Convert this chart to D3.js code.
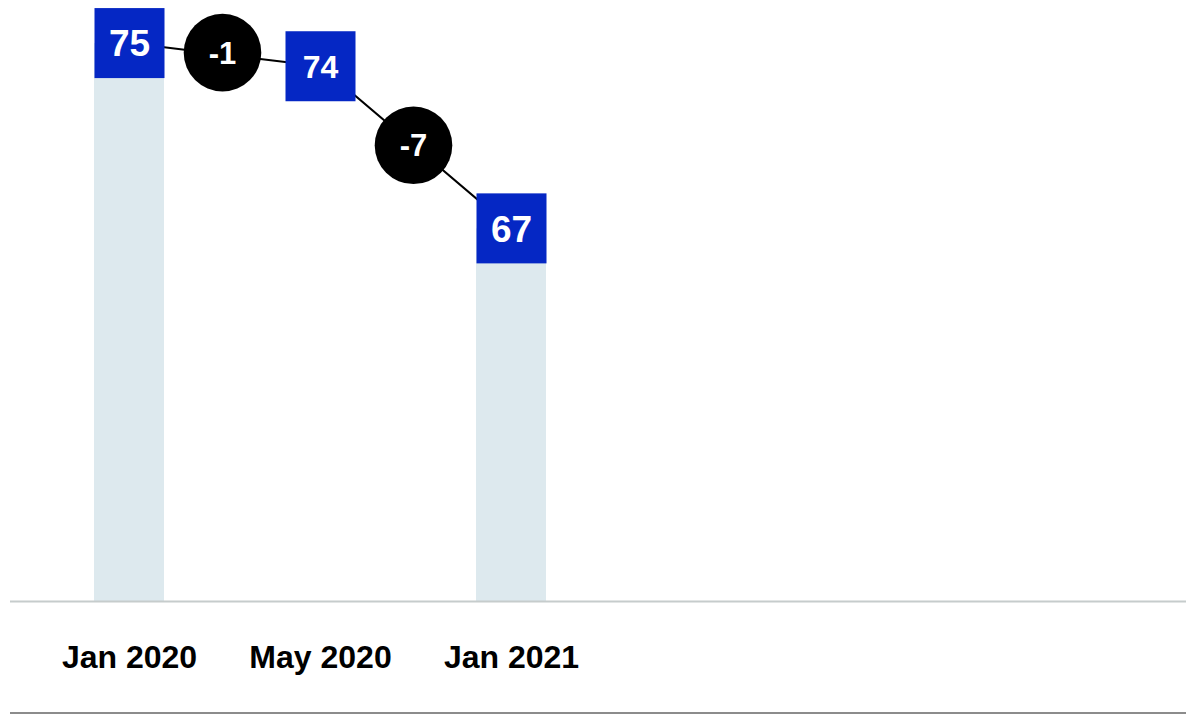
<!DOCTYPE html>
<html>
<head>
<meta charset="utf-8">
<script src="https://cdn.jsdelivr.net/npm/d3@7"></script>
<style>
  html, body { margin: 0; padding: 0; background: #fff; }
  svg { display: block; }
  text { font-family: "Liberation Sans", Arial, sans-serif; font-weight: bold; }
</style>
</head>
<body>
<svg id="chart" width="1186" height="714"></svg>
<script>
// Survey score at each wave
const categories = ["Jan 2020", "May 2020", "Jan 2021"];
const values = [75, 74, 67];
// Waves that carry a background column
const showColumn = [true, false, true];
// Emphasised waves get a larger value label
const emphasis = [true, false, true];

const W = 1186, H = 714;
const svg = d3.select("#chart");

const x = d3.scaleBand()
  .domain(categories)
  .range([34, 34 + 191 * categories.length]);

const baseY = 601.5;
const y = d3.scaleLinear()
  .domain([50.89, 76.86])
  .range([baseY, 0]);

const cx = c => x(c) + x.bandwidth() / 2;
const colW = 70, boxSize = 70, radius = 38.8;

const points = categories.map((c, i) => ({ c, v: values[i], col: showColumn[i], big: emphasis[i] }));

// Background columns
svg.append("g").selectAll("rect")
  .data(points.filter(d => d.col))
  .join("rect")
  .attr("x", d => cx(d.c) - colW / 2 - 0.5)
  .attr("y", d => y(d.v))
  .attr("width", colW)
  .attr("height", d => baseY - y(d.v))
  .attr("fill", "#dde9ee");

// Baseline
svg.append("line")
  .attr("x1", 10).attr("x2", W)
  .attr("y1", baseY).attr("y2", baseY)
  .attr("stroke", "#c6cccc").attr("stroke-width", 2);

// Bottom rule
svg.append("line")
  .attr("x1", 10).attr("x2", W)
  .attr("y1", 713).attr("y2", 713)
  .attr("stroke", "#666").attr("stroke-width", 1.5);

// Connecting line
const line = d3.line().x(d => cx(d.c)).y(d => y(d.v));
svg.append("path")
  .datum(points)
  .attr("d", line)
  .attr("fill", "none")
  .attr("stroke", "#000")
  .attr("stroke-width", 2);

// Change bubbles between waves, nudged slightly up-left of the segment midpoint
const deltas = points.slice(1).map((d, i) => ({
  x: (cx(points[i].c) + cx(d.c)) / 2 - 2.5,
  y: (y(points[i].v) + y(d.v)) / 2 - 2,
  delta: d.v - points[i].v
}));
const bubbles = svg.append("g").selectAll("g")
  .data(deltas)
  .join("g")
  .attr("transform", d => `translate(${d.x},${d.y})`);
bubbles.append("circle")
  .attr("r", radius)
  .attr("fill", "#000");
bubbles.append("text")
  .attr("text-anchor", "middle")
  .attr("dy", "0.36em")
  .attr("fill", "#fff")
  .attr("font-size", 31)
  .text(d => (d.delta > 0 ? "+" : "") + d.delta);

// Value boxes
const boxes = svg.append("g").selectAll("g")
  .data(points)
  .join("g")
  .attr("transform", d => `translate(${cx(d.c)},${y(d.v)})`);
boxes.append("rect")
  .attr("x", -boxSize / 2)
  .attr("y", -boxSize / 2)
  .attr("width", boxSize)
  .attr("height", boxSize)
  .attr("fill", "#0527c4");
boxes.append("text")
  .attr("text-anchor", "middle")
  .attr("dy", "0.36em")
  .attr("fill", "#fff")
  .attr("font-size", d => d.big ? 37 : 32)
  .text(d => d.v);

// Category labels
const xAxis = d3.axisBottom(x).tickSize(0).tickPadding(0);
const gx = svg.append("g")
  .attr("transform", `translate(0,${baseY})`)
  .call(xAxis);
gx.select(".domain").remove();
gx.selectAll("text")
  .attr("font-family", "'Liberation Sans', Arial, sans-serif")
  .attr("font-weight", "bold")
  .attr("font-size", 32)
  .attr("fill", "#000")
  .attr("y", 66.5)
  .attr("dy", null);
</script>
</body>
</html>
